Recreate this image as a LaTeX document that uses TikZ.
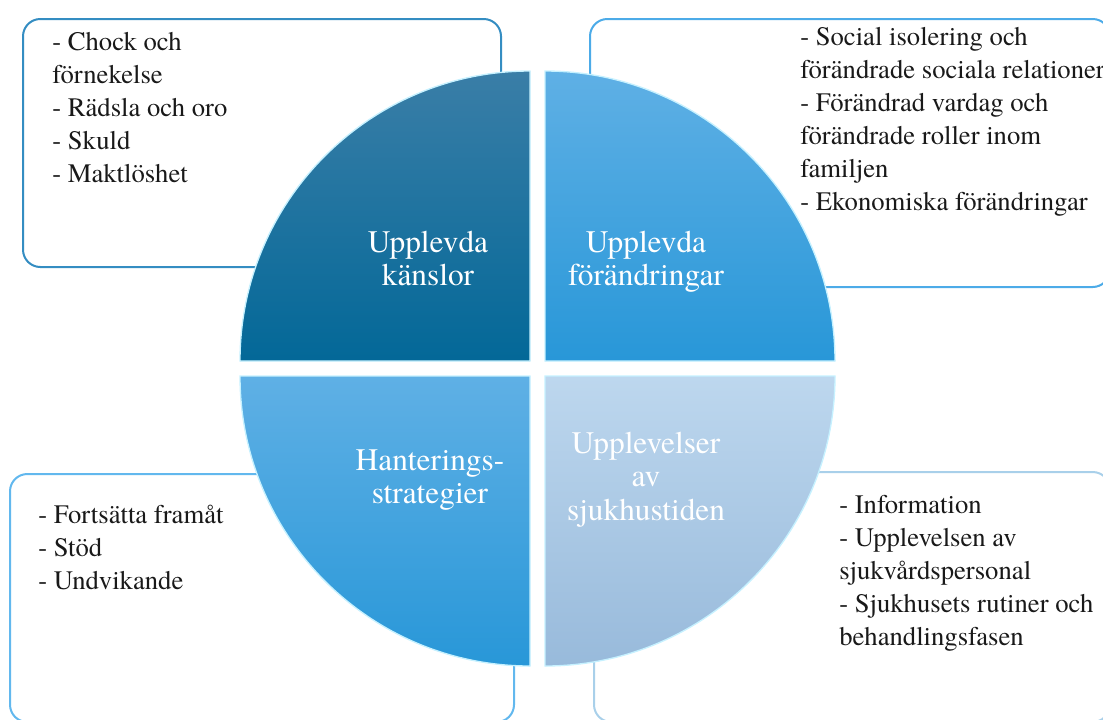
\documentclass[tikz,border=0pt]{standalone}
\usepackage{fontspec}
\setmainfont{texgyretermes-regular.otf}
\usepackage{tikz}
\usetikzlibrary{positioning}

% colours of the four quarters and of the boxes round them
\definecolor{tltop}{HTML}{3A7EA7}
\definecolor{tlmid}{HTML}{0B71A1}
\definecolor{tlbot}{HTML}{036898}
\definecolor{bluetop}{HTML}{5FB0E5}
\definecolor{bluemid}{HTML}{3BA3E0}
\definecolor{bluebot}{HTML}{2897D8}
\definecolor{paletop}{HTML}{BDD7EE}
\definecolor{palebot}{HTML}{98BADB}
\definecolor{glow}{HTML}{C6F1FF}
\definecolor{boxtl}{HTML}{348DC2}
\definecolor{boxtr}{HTML}{4CABE8}
\definecolor{boxbl}{HTML}{62B8EE}
\definecolor{boxbr}{HTML}{A9D0EA}

\tikzset{
quarter/.style={draw=glow, line width=1pt}, % one quarter of the circle
listbox/.style={fill=white, line width=1.5pt, rounded corners=13pt}, % box behind each quarter
listtext/.style={anchor=north west, align=left, inner sep=0pt, text=black!90,
	font=\fontsize{20}{24.75}\selectfont}, % the points in a box
quartertext/.style={anchor=north, align=center, inner sep=0pt, text=white,
	font=\fontsize{23.5}{25}\selectfont}, % the theme on a quarter
}

\begin{document}
\begin{tikzpicture}[x=0.75pt, y=-0.75pt]
	\useasboundingbox (0,0) rectangle (1103,719);

	% boxes first, the circle covers a corner of each
	\draw[listbox, draw=boxtl] (23,19) rectangle (501,267);
	\draw[listbox, draw=boxtr] (590,19) rectangle (1110,287);
	\draw[listbox, draw=boxbl] (10,474) rectangle (514,722);
	\draw[listbox, draw=boxbr] (594,472) rectangle (1110,722);

	% the four quarters
	\draw[quarter, top color=tltop, middle color=tlmid, bottom color=tlbot]
		(530,361) -- (240,361) arc[start angle=180, end angle=270, radius=290] -- cycle;
	\draw[quarter, top color=bluetop, middle color=bluemid, bottom color=bluebot]
		(545,361) -- (545,71) arc[start angle=270, end angle=360, radius=290] -- cycle;
	\draw[quarter, top color=paletop, bottom color=palebot]
		(545,376) -- (835,376) arc[start angle=0, end angle=90, radius=290] -- cycle;
	\draw[quarter, top color=bluetop, middle color=bluemid, bottom color=bluebot]
		(530,376) -- (530,666) arc[start angle=90, end angle=180, radius=290] -- cycle;

	% themes
	\node[quartertext] (kanslor) at (428,229) {\strut Upplevda\\känslor};
	\node[quartertext] (forandringar) at (646,229) {\strut Upplevda\\förändringar};
	\node[quartertext] (strategier) at (430,447) {\strut Hanterings-\\strategier};
	\node[quartertext] (sjukhustiden) at (646,430) {\strut Upplevelser\\av\\sjukhustiden};

	% points under each theme
	\node[listtext] (kanslorlist) at (52,27) {\strut - Chock och\\förnekelse\\- Rädsla och oro\\- Skuld\\- Maktlöshet};
	\node[listtext] (forandringarlist) at (800,22) {\strut - Social isolering och\\förändrade sociala relationer\\- Förändrad vardag och\\förändrade roller inom\\familjen\\- Ekonomiska förändringar};
	\node[listtext] (strategierlist) at (38,500) {\strut - Fortsätta framåt\\- Stöd\\- Undvikande};
	\node[listtext] (sjukhustidenlist) at (839,490) {\strut - Information\\- Upplevelsen av\\sjukvårdspersonal\\- Sjukhusets rutiner och\\behandlingsfasen};
\end{tikzpicture}
\end{document}
